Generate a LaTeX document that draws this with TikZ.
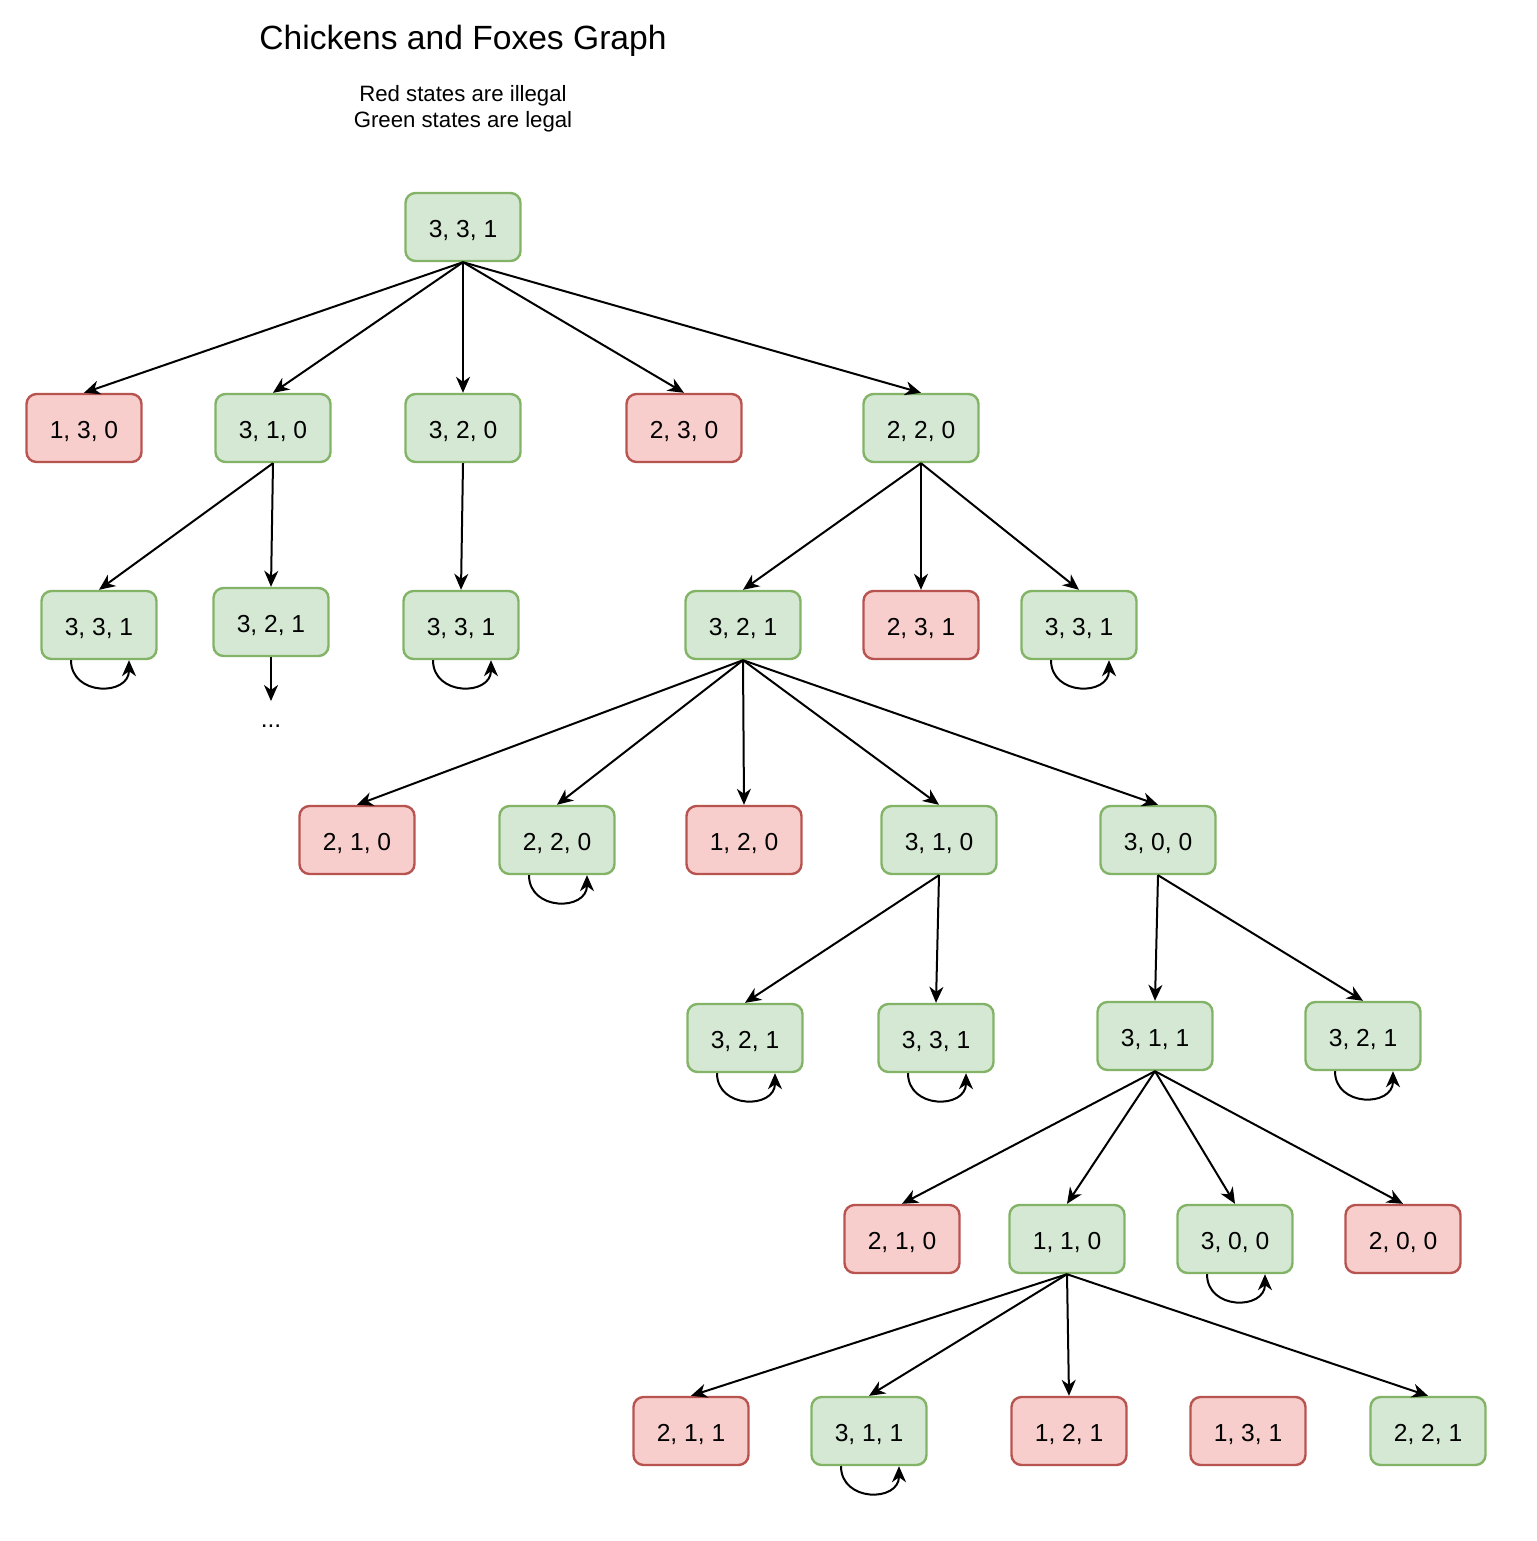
\documentclass[tikz,border=0pt]{standalone}
\usepackage{fontspec}
\setmainfont{Liberation Sans}
\usetikzlibrary{arrows.meta}
\definecolor{okfill}{HTML}{D5E8D4}
\definecolor{okline}{HTML}{82B366}
\definecolor{badfill}{HTML}{F8CECC}
\definecolor{badline}{HTML}{B85450}
\tikzset{
  state/.style={rounded corners=5pt, line width=1.2pt, minimum width=57.5pt,
    minimum height=34pt, text height=12pt, text depth=1.4pt,
    font=\fontsize{12.3}{15}\selectfont},
  legal/.style={state, draw=okline, fill=okfill},
  illegal/.style={state, draw=badline, fill=badfill},
  arr/.style={-{Stealth[length=8pt,width=7pt,inset=2.5pt]}, line width=1pt, black},
  selfloop/.style={arr, to path={([xshift=-14pt]\tikztostart.south)
    .. controls +(0,-18pt) and +(0,-18pt) .. ([xshift=15pt]\tikztostart.south)}}
}
\begin{document}
\begin{tikzpicture}[x=0.5pt,y=-0.5pt]
  \useasboundingbox (0,0) rectangle (1536,1541);
  %Title and legend
  \node (title) at (463,41) {\fontsize{16.8}{20}\selectfont Chickens and Foxes Graph};
  \node[align=center, font=\fontsize{11.1}{13}\selectfont] (legend) at (463,109)
    {Red states are illegal\\Green states are legal};

  %Root
  \node[legal] (A) at (463,227) {3, 3, 1};
  %Level 2
  \node[illegal] (B1) at (84,428) {1, 3, 0};
  \node[legal] (B2) at (273,428) {3, 1, 0};
  \node[legal] (B3) at (463,428) {3, 2, 0};
  \node[illegal] (B4) at (684,428) {2, 3, 0};
  \node[legal] (B5) at (921,428) {2, 2, 0};
  %Level 3
  \node[legal] (C1) at (99,625) {3, 3, 1};
  \node[legal] (C2) at (271,622) {3, 2, 1};
  \coordinate (dotsend) at (271,701);
  \node[font=\fontsize{12.3}{15}\selectfont] (dots) at (271,726) {...};
  \node[legal] (C3) at (461,625) {3, 3, 1};
  \node[legal] (C4) at (743,625) {3, 2, 1};
  \node[illegal] (C5) at (921,625) {2, 3, 1};
  \node[legal] (C6) at (1079,625) {3, 3, 1};
  %Level 4
  \node[illegal] (D1) at (357,840) {2, 1, 0};
  \node[legal] (D2) at (557,840) {2, 2, 0};
  \node[illegal] (D3) at (744,840) {1, 2, 0};
  \node[legal] (D4) at (939,840) {3, 1, 0};
  \node[legal] (D5) at (1158,840) {3, 0, 0};
  %Level 5
  \node[legal] (E1) at (745,1038) {3, 2, 1};
  \node[legal] (E2) at (936,1038) {3, 3, 1};
  \node[legal] (E3) at (1155,1036) {3, 1, 1};
  \node[legal] (E4) at (1363,1036) {3, 2, 1};
  %Level 6
  \node[illegal] (F1) at (902,1239) {2, 1, 0};
  \node[legal] (F2) at (1067,1239) {1, 1, 0};
  \node[legal] (F3) at (1235,1239) {3, 0, 0};
  \node[illegal] (F4) at (1403,1239) {2, 0, 0};
  %Level 7
  \node[illegal] (G1) at (691,1431) {2, 1, 1};
  \node[legal] (G2) at (869,1431) {3, 1, 1};
  \node[illegal] (G3) at (1069,1431) {1, 2, 1};
  \node[illegal] (G4) at (1248,1431) {1, 3, 1};
  \node[legal] (G5) at (1428,1431) {2, 2, 1};

  %Moves
  \foreach \c in {B1,B2,B3,B4,B5} \draw[arr] (A.south) -- (\c.north);
  \foreach \c in {C1,C2} \draw[arr] (B2.south) -- (\c.north);
  \draw[arr] (B3.south) -- (C3.north);
  \foreach \c in {C4,C5,C6} \draw[arr] (B5.south) -- (\c.north);
  \draw[arr] (C2.south) -- (dotsend);
  \foreach \c in {D1,D2,D3,D4,D5} \draw[arr] (C4.south) -- (\c.north);
  \foreach \c in {E1,E2} \draw[arr] (D4.south) -- (\c.north);
  \foreach \c in {E3,E4} \draw[arr] (D5.south) -- (\c.north);
  \foreach \c in {F1,F2,F3,F4} \draw[arr] (E3.south) -- (\c.north);
  \foreach \c in {G1,G2,G3,G5} \draw[arr] (F2.south) -- (\c.north);
  %Self loops
  \foreach \c in {C1,C3,C6,D2,E1,E2,E4,F3,G2} \draw[selfloop] (\c) to (\c);
\end{tikzpicture}
\end{document}
